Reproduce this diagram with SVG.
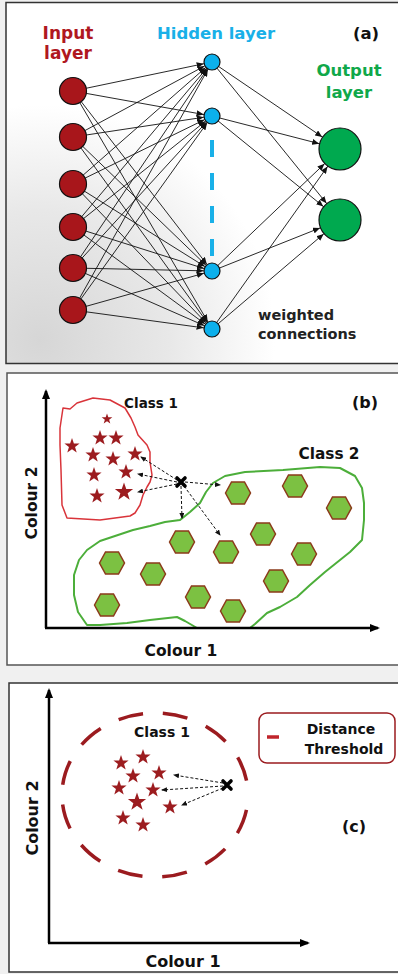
<svg xmlns="http://www.w3.org/2000/svg" xmlns:xlink="http://www.w3.org/1999/xlink" width="398" height="974" viewBox="0 0 398 974">
<style>
text{font-family:"DejaVu Sans","Liberation Sans",sans-serif;font-weight:bold;}
.frame{stroke:#333;stroke-width:1.5;}
.nn line{stroke:#111;stroke-width:0.9;}
.toh{marker-end:url(#ahH);}
.too{marker-end:url(#ahO);}
.inp{fill:#a8161b;stroke:#111;stroke-width:1.2;}
.hid{fill:#0cb0ec;stroke:#111;stroke-width:1.2;}
.out{fill:#00a94f;stroke:#111;stroke-width:1.2;}
.dash{stroke:#111;stroke-width:1;stroke-dasharray:3,2;fill:none;marker-end:url(#ahD);}
.axis{stroke:#000;stroke-width:2.5;fill:none;marker-end:url(#ahA);}
.star{fill:#9c1c1f;}
.hex{fill:#7cc142;stroke:#8b3a1a;stroke-width:1.5;}
.xm{stroke:#000;stroke-width:3.6;stroke-linecap:round;fill:none;}
</style>
<defs>
<radialGradient id="bgA" gradientUnits="userSpaceOnUse" cx="40" cy="340" r="235">
<stop offset="0" stop-color="#d6d6d6"/>
<stop offset="0.55" stop-color="#e8e8e8"/>
<stop offset="1" stop-color="#ffffff"/>
</radialGradient>
<marker id="ahH" viewBox="0 0 7 6" refX="15.5" refY="3" markerWidth="7" markerHeight="6" markerUnits="userSpaceOnUse" orient="auto"><path d="M0,0 L7,3 L0,6 z" fill="#111"/></marker>
<marker id="ahO" viewBox="0 0 7 6" refX="28.5" refY="3" markerWidth="7" markerHeight="6" markerUnits="userSpaceOnUse" orient="auto"><path d="M0,0 L7,3 L0,6 z" fill="#111"/></marker>
<marker id="ahD" viewBox="0 0 6 5" refX="5" refY="2.5" markerWidth="6" markerHeight="5" markerUnits="userSpaceOnUse" orient="auto"><path d="M0,0 L6,2.5 L0,5 z" fill="#111"/></marker>
<marker id="ahA" viewBox="0 0 10 8" refX="8" refY="4" markerWidth="10" markerHeight="8" markerUnits="userSpaceOnUse" orient="auto"><path d="M0,0 L10,4 L0,8 z" fill="#000"/></marker>
<path id="star" d="M0,-8 L1.881,-2.589 L7.608,-2.472 L3.043,0.989 L4.702,6.472 L0,3.2 L-4.702,6.472 L-3.043,0.989 L-7.608,-2.472 L-1.881,-2.589 Z"/>
<path id="hexa" d="M-12.5,0 L-6.5,-11 L6.5,-11 L12.5,0 L6.5,11 L-6.5,11 Z"/>
</defs>

<rect x="0" y="0" width="398" height="974" fill="#f0f0f0"/>

<!-- Panel (a) -->
<g id="panel-a">
<rect class="frame" x="6" y="2.5" width="400" height="361" fill="url(#bgA)"/>
<text x="68" y="39" font-size="17" fill="#b0181f" text-anchor="middle">Input</text>
<text x="68" y="59" font-size="17" fill="#b0181f" text-anchor="middle">layer</text>
<text x="216" y="39" font-size="16.5" fill="#19b0e8" text-anchor="middle">Hidden layer</text>
<text x="366" y="39" font-size="16.5" fill="#111" text-anchor="middle">(a)</text>
<text x="349" y="76" font-size="16.5" fill="#10a84a" text-anchor="middle">Output</text>
<text x="349" y="98" font-size="16.5" fill="#10a84a" text-anchor="middle">layer</text>
<text x="258" y="320" font-size="14.5" fill="#222">weighted</text>
<text x="258" y="339" font-size="14.5" fill="#222">connections</text>
</g>

<g id="connectors-a" class="nn">
<line class="toh" x1="73" y1="91" x2="212" y2="62"/>
<line class="toh" x1="73" y1="91" x2="212" y2="116"/>
<line class="toh" x1="73" y1="91" x2="212" y2="271"/>
<line class="toh" x1="73" y1="91" x2="212" y2="329"/>
<line class="toh" x1="73" y1="137" x2="212" y2="62"/>
<line class="toh" x1="73" y1="137" x2="212" y2="116"/>
<line class="toh" x1="73" y1="137" x2="212" y2="271"/>
<line class="toh" x1="73" y1="137" x2="212" y2="329"/>
<line class="toh" x1="73" y1="184" x2="212" y2="62"/>
<line class="toh" x1="73" y1="184" x2="212" y2="116"/>
<line class="toh" x1="73" y1="184" x2="212" y2="271"/>
<line class="toh" x1="73" y1="184" x2="212" y2="329"/>
<line class="toh" x1="73" y1="227" x2="212" y2="62"/>
<line class="toh" x1="73" y1="227" x2="212" y2="116"/>
<line class="toh" x1="73" y1="227" x2="212" y2="271"/>
<line class="toh" x1="73" y1="227" x2="212" y2="329"/>
<line class="toh" x1="73" y1="268" x2="212" y2="62"/>
<line class="toh" x1="73" y1="268" x2="212" y2="116"/>
<line class="toh" x1="73" y1="268" x2="212" y2="271"/>
<line class="toh" x1="73" y1="268" x2="212" y2="329"/>
<line class="toh" x1="73" y1="310" x2="212" y2="62"/>
<line class="toh" x1="73" y1="310" x2="212" y2="116"/>
<line class="toh" x1="73" y1="310" x2="212" y2="271"/>
<line class="toh" x1="73" y1="310" x2="212" y2="329"/>
<line class="too" x1="212" y1="62" x2="340" y2="149"/>
<line class="too" x1="212" y1="62" x2="340" y2="220"/>
<line class="too" x1="212" y1="116" x2="340" y2="149"/>
<line class="too" x1="212" y1="116" x2="340" y2="220"/>
<line class="too" x1="212" y1="271" x2="340" y2="149"/>
<line class="too" x1="212" y1="271" x2="340" y2="220"/>
<line class="too" x1="212" y1="329" x2="340" y2="149"/>
<line class="too" x1="212" y1="329" x2="340" y2="220"/>
<line x1="212" y1="140" x2="212" y2="256" style="stroke:#19b0e8;stroke-width:4;stroke-dasharray:17,16"/>
</g>

<g id="in1"><circle class="inp" cx="73" cy="91" r="13.5"/></g>
<g id="in2"><circle class="inp" cx="73" cy="137" r="13.5"/></g>
<g id="in3"><circle class="inp" cx="73" cy="184" r="13.5"/></g>
<g id="in4"><circle class="inp" cx="73" cy="227" r="13.5"/></g>
<g id="in5"><circle class="inp" cx="73" cy="268" r="13.5"/></g>
<g id="in6"><circle class="inp" cx="73" cy="310" r="13.5"/></g>
<g id="h1"><circle class="hid" cx="212" cy="62" r="8"/></g>
<g id="h2"><circle class="hid" cx="212" cy="116" r="8"/></g>
<g id="h3"><circle class="hid" cx="212" cy="271" r="8"/></g>
<g id="h4"><circle class="hid" cx="212" cy="329" r="8"/></g>
<g id="o1"><circle class="out" cx="340" cy="149" r="21"/></g>
<g id="o2"><circle class="out" cx="340" cy="220" r="21"/></g>

<!-- Panel (b) -->
<g id="panel-b">
<rect class="frame" x="7" y="373" width="400" height="292" fill="#fff" style="stroke:#555"/>
<path d="M63,408 L70,409 L77,403 L93,398 L110,400 L125,408 L131,418 L135,427 L138,435 L147,445 L150,452 L150,462 L152,475 L150,482 L147,487 L143,495 L140,505 L135,513 L130,516 L100,520 L67,518 L62,505 L61,470 L60,445 L60,428 Z" fill="#fff" stroke="#d9343a" stroke-width="1.5" stroke-linejoin="round"/>
<path d="M180,520 L190,512 L200,503 L206,492 L213,483 L225,476 L245,472 L283,470 L320,467 L340,468 L355,476 L362,488 L364,503 L364,520 L362,540 L350,552 L340,560 L325,572 L310,585 L297,597 L280,607 L267,613 L255,624 L250,628 L197,628 L185,621 L177,617 L150,620 L127,623 L100,625 L87,625 L78,612 L74,595 L74,575 L79,560 L87,550 L100,541 L118,535 L133,530 L150,526 L165,522 Z" fill="none" stroke="#4cae3a" stroke-width="2" stroke-linejoin="round"/>
<text x="151" y="408" font-size="13.5" fill="#111" text-anchor="middle">Class 1</text>
<text x="365" y="408" font-size="16" fill="#111" text-anchor="middle">(b)</text>
<text x="329" y="459" font-size="15.3" fill="#111" text-anchor="middle">Class 2</text>
<text x="181" y="656" font-size="15.5" fill="#111" text-anchor="middle">Colour 1</text>
<text transform="translate(37,503) rotate(-90)" font-size="15.5" fill="#111" text-anchor="middle">Colour 2</text>
</g>
<g id="stars-b">
<use href="#star" class="star" transform="translate(107,419) scale(0.7)"/>
<use href="#star" class="star" transform="translate(72,446)"/>
<use href="#star" class="star" transform="translate(100,438)"/>
<use href="#star" class="star" transform="translate(116,438)"/>
<use href="#star" class="star" transform="translate(93,455)"/>
<use href="#star" class="star" transform="translate(113,459)"/>
<use href="#star" class="star" transform="translate(135,454)"/>
<use href="#star" class="star" transform="translate(94,475)"/>
<use href="#star" class="star" transform="translate(126,472)"/>
<use href="#star" class="star" transform="translate(97,496)"/>
<use href="#star" class="star" transform="translate(124,492) scale(1.2)"/>
</g>
<g id="hex-b">
<use href="#hexa" class="hex" transform="translate(238,493)"/>
<use href="#hexa" class="hex" transform="translate(295,486)"/>
<use href="#hexa" class="hex" transform="translate(339,508)"/>
<use href="#hexa" class="hex" transform="translate(182,542)"/>
<use href="#hexa" class="hex" transform="translate(226,552)"/>
<use href="#hexa" class="hex" transform="translate(263,534)"/>
<use href="#hexa" class="hex" transform="translate(304,554)"/>
<use href="#hexa" class="hex" transform="translate(112,563)"/>
<use href="#hexa" class="hex" transform="translate(153,574)"/>
<use href="#hexa" class="hex" transform="translate(276,581)"/>
<use href="#hexa" class="hex" transform="translate(198,597)"/>
<use href="#hexa" class="hex" transform="translate(107,605)"/>
<use href="#hexa" class="hex" transform="translate(233,611)"/>
</g>
<g id="connectors-b">
<line class="axis" x1="46" y1="628" x2="46" y2="391"/>
<line class="axis" x1="45" y1="628" x2="378" y2="628"/>
<line class="dash" x1="177" y1="480" x2="141" y2="457"/>
<line class="dash" x1="177" y1="482" x2="138" y2="474"/>
<line class="dash" x1="177" y1="484" x2="138" y2="492"/>
<line class="dash" x1="185" y1="482" x2="220" y2="485"/>
<line class="dash" x1="181" y1="486" x2="182" y2="518"/>
<line class="dash" x1="184" y1="486" x2="220" y2="535"/>
</g>
<g id="query-b"><path class="xm" d="M177,478 L185,486 M185,478 L177,486"/></g>

<!-- Panel (c) -->
<g id="panel-c">
<rect class="frame" x="9" y="683" width="400" height="289" fill="#fff"/>
<ellipse cx="155" cy="795" rx="93" ry="82" fill="none" stroke="#9b1b1f" stroke-width="3.5" stroke-dasharray="25,20" stroke-dashoffset="30"/>
<text x="162" y="737" font-size="14" fill="#111" text-anchor="middle">Class 1</text>
<text x="354" y="832" font-size="16" fill="#111" text-anchor="middle">(c)</text>
<text x="183" y="967" font-size="16" fill="#111" text-anchor="middle">Colour 1</text>
<text transform="translate(38,818) rotate(-90)" font-size="16" fill="#111" text-anchor="middle">Colour 2</text>
</g>
<g id="legend-c">
<rect x="259" y="713" width="136" height="50" rx="8" fill="#fff" stroke="#9b1b1f" stroke-width="1.5"/>
<line x1="267" y1="737" x2="279" y2="737" stroke="#c0242b" stroke-width="3.5"/>
<text x="341" y="734" font-size="14" fill="#111" text-anchor="middle">Distance</text>
<text x="344" y="754" font-size="14" fill="#111" text-anchor="middle">Threshold</text>
</g>
<g id="stars-c">
<use href="#star" class="star" transform="translate(121,763)"/>
<use href="#star" class="star" transform="translate(143,757)"/>
<use href="#star" class="star" transform="translate(133,776)"/>
<use href="#star" class="star" transform="translate(159,773)"/>
<use href="#star" class="star" transform="translate(119,788)"/>
<use href="#star" class="star" transform="translate(153,790)"/>
<use href="#star" class="star" transform="translate(137,802) scale(1.2)"/>
<use href="#star" class="star" transform="translate(170,807)"/>
<use href="#star" class="star" transform="translate(123,818)"/>
<use href="#star" class="star" transform="translate(143,825)"/>
</g>
<g id="connectors-c">
<line class="axis" x1="49" y1="943" x2="49" y2="690"/>
<line class="axis" x1="48" y1="943" x2="308" y2="943"/>
<line class="dash" x1="223" y1="783" x2="174" y2="775"/>
<line class="dash" x1="223" y1="786" x2="162" y2="790"/>
<line class="dash" x1="223" y1="788" x2="182" y2="805"/>
</g>
<g id="query-c"><path class="xm" d="M223,781 L231,789 M231,781 L223,789"/></g>
</svg>
